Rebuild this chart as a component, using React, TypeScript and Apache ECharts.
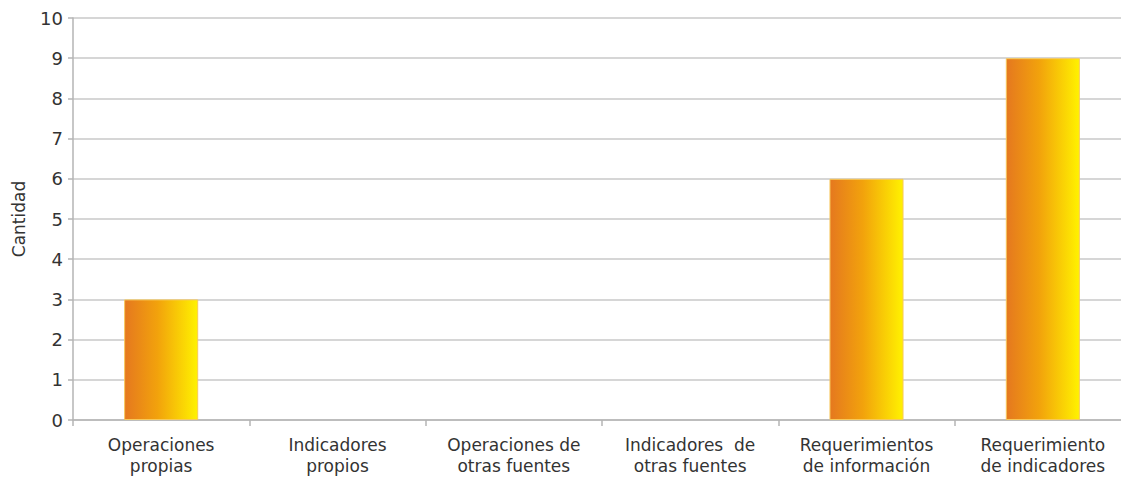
import React, { useEffect, useRef } from "react";
import * as echarts from "echarts";

const categories = [
  "Operaciones\npropias",
  "Indicadores\npropios",
  "Operaciones de\notras fuentes",
  "Indicadores  de\notras fuentes",
  "Requerimientos\nde información",
  "Requerimiento\nde indicadores",
];
const values = [3, 0, 0, 0, 6, 9];
const yTicks = [0, 10, 1];
const yAxisName = "Cantidad";

export default function App() {
  const ref = useRef<HTMLDivElement>(null);
  useEffect(() => {
    if (!ref.current) return;
    const chart = echarts.init(ref.current, null, { renderer: "svg" });
    const font = "'DejaVu Sans', sans-serif";
    chart.setOption({
      animation: false,
      grid: { left: 73, right: 0, top: 18, bottom: 60, containLabel: false },
      xAxis: {
        type: "category",
        data: categories,
        axisLine: { lineStyle: { color: "#b5b5b5", width: 1.5 } },
        axisTick: { show: true, length: 6, lineStyle: { color: "#b5b5b5", width: 1.5 } },
        axisLabel: {
          color: "#333",
          fontFamily: font,
          fontSize: 17,
          lineHeight: 21,
          margin: 14,
          interval: 0,
        },
      },
      yAxis: {
        type: "value",
        min: yTicks[0],
        max: yTicks[1],
        interval: yTicks[2],
        name: yAxisName,
        nameLocation: "middle",
        nameGap: 46,
        nameTextStyle: { color: "#333", fontFamily: font, fontSize: 17 },
        axisLine: { show: true, lineStyle: { color: "#b5b5b5", width: 1.5 } },
        axisTick: { show: true, length: 5, lineStyle: { color: "#b5b5b5", width: 1.5 } },
        axisLabel: { color: "#333", fontFamily: font, fontSize: 18, margin: 10 },
        splitLine: { lineStyle: { color: "#c8c8c8", width: 1.5 } },
      },
      series: [
        {
          type: "bar",
          data: values.map((v) =>
            v === 0 ? { value: v, itemStyle: { borderWidth: 0 } } : v
          ),
          barWidth: "42%",
          itemStyle: {
            color: new echarts.graphic.LinearGradient(0, 0, 1, 0, [
              { offset: 0, color: "#e5781f" },
              { offset: 0.45, color: "#f2a20c" },
              { offset: 1, color: "#fff200" },
            ]),
            borderColor: "#f7c95a",
            borderWidth: 1,
          },
        },
      ],
    });
    return () => chart.dispose();
  }, []);
  return (
    <div
      style={{
        position: "absolute",
        left: 0,
        top: 0,
        width: 1121,
        height: 480,
        overflow: "hidden",
      }}
    >
      <div ref={ref} style={{ width: 1131, height: 480 }} />
    </div>
  );
}
